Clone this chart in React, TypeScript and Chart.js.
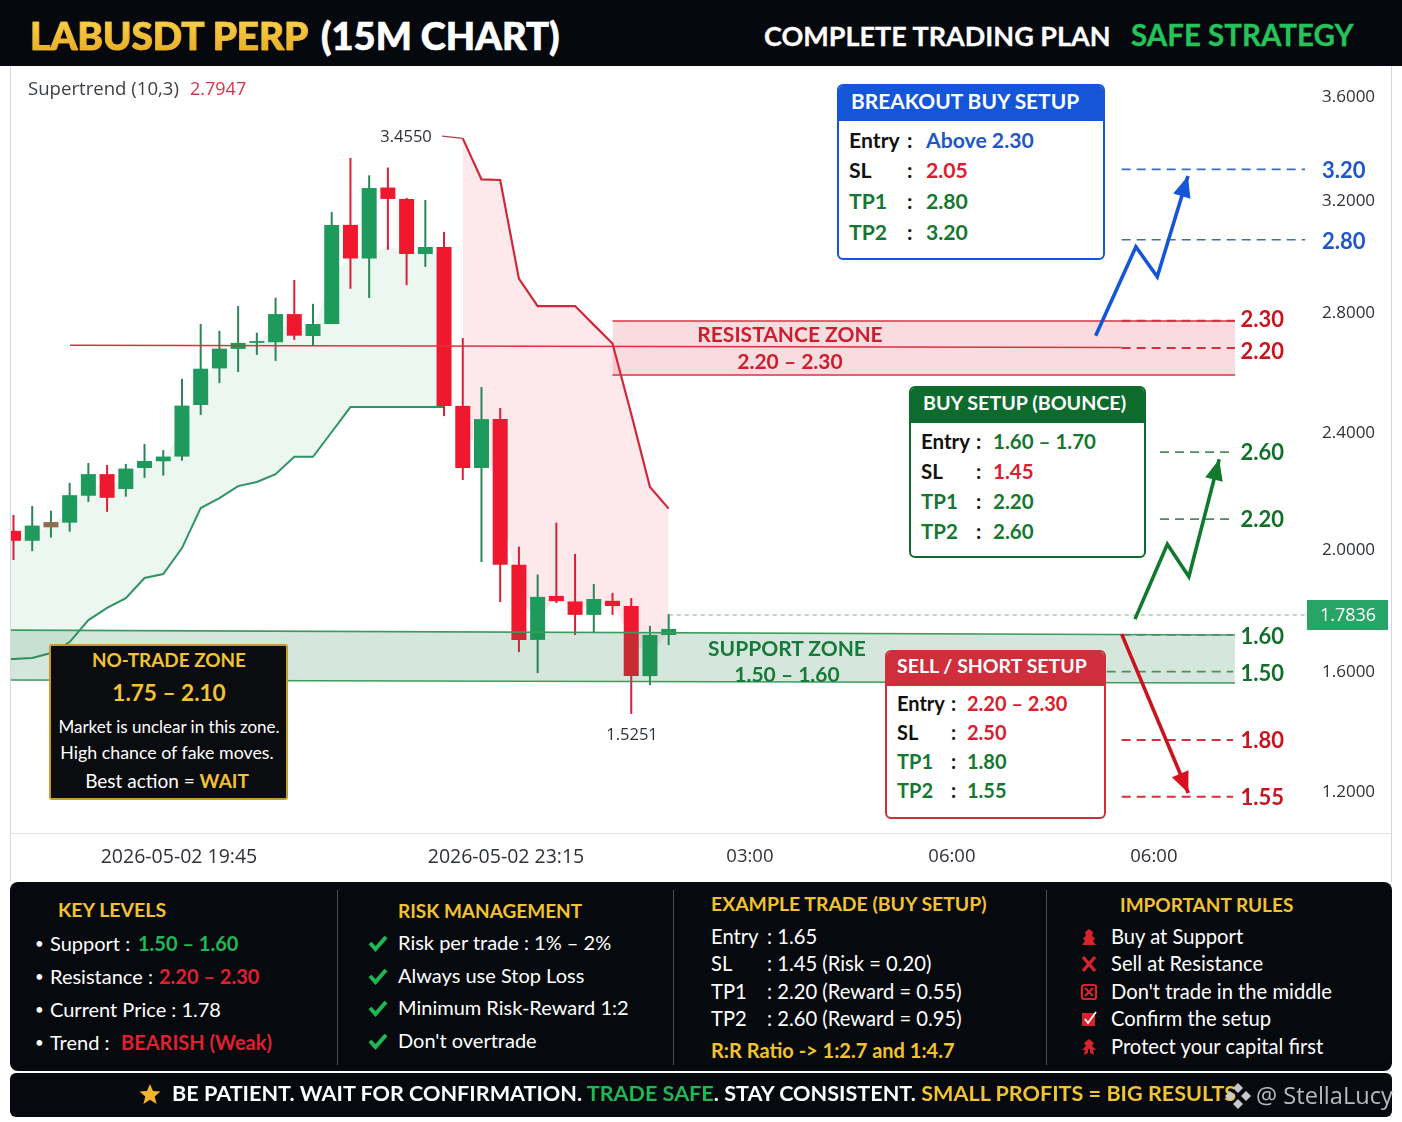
import React, { useEffect, useRef } from "react";
import { Chart, registerables, LinearScale } from "chart.js";

// ---- candle data (prices) ----
const opens = [2.062,2.028,2.074,2.090,2.182,2.256,2.205,2.277,2.300,2.316,2.490,2.612,2.677,2.697,2.699,2.793,2.720,2.760,3.111,2.991,3.248,3.204,3.007,3.032,2.487,2.277,2.443,1.948,1.702,1.846,1.828,1.784,1.830,1.813,1.583,1.718];
const closes = [2.028,2.080,2.092,2.184,2.256,2.175,2.275,2.301,2.316,2.488,2.611,2.678,2.697,2.703,2.793,2.721,2.760,3.111,2.991,3.246,3.204,3.007,3.032,2.487,2.277,2.443,1.948,1.702,1.843,1.829,1.784,1.836,1.813,1.583,1.718,1.738];
const highs = [2.116,2.147,2.131,2.226,2.294,2.287,2.291,2.359,2.338,2.577,2.760,2.737,2.821,2.731,2.851,2.914,2.829,3.157,3.362,3.295,3.325,3.208,3.200,3.086,2.713,2.550,2.480,2.008,1.916,2.090,1.984,1.885,1.856,1.839,1.748,1.787];
const lows = [1.964,1.993,2.039,2.059,2.161,2.127,2.179,2.243,2.251,2.302,2.457,2.563,2.600,2.657,2.637,2.707,2.687,2.760,2.883,2.850,3.022,2.896,2.961,2.453,2.236,1.957,1.826,1.662,1.593,1.823,1.718,1.725,1.784,1.457,1.553,1.685];

// ---- supertrend ----
const leftEdgeBar = -0.14;
const supertrendUpAtEdge = 1.639;
const upFillEdgeAtEdge = 2.04;
const supertrendUp = [1.639,1.643,1.659,1.695,1.767,1.807,1.839,1.905,1.918,2.003,2.140,2.174,2.215,2.229,2.256,2.315,2.315,2.400,2.483,2.483,2.483,2.483,2.483,2.483];
const upFillEdge = [2.044,2.055,2.082,2.137,2.219,2.215,2.239,2.287,2.308,2.403,2.550,2.645,2.687,2.700,2.747,2.757,2.740,2.932,2.993,2.993,3.039,3.007,3.007,3.007];
const supertrendDownStart = 24;
const supertrendDown = [3.437,3.279,3.277,2.919,2.821,2.821,2.821,2.757,2.695,2.460,2.212,2.138];
const downFillEdge = [2.383,2.362,2.195,1.826,1.774,1.839,1.807,1.810,1.823,1.698,1.652,1.728];
const highLeaderX = [22.9,24];
const highLeaderY = [3.446,3.437];

// ---- levels, as [x in bars, price] ----
const zoneEndX = 65.25;
const resistanceTop = [[32,2.77],[zoneEndX,2.77]];
const resistanceBottom = [[32,2.59],[zoneEndX,2.59]];
const supportTop = [[leftEdgeBar,1.734],[zoneEndX,1.718]];
const supportBottom = [[leftEdgeBar,1.57],[zoneEndX,1.56]];
const redRule = [[3.02,2.689],[59.2,2.682]];
const currentPrice = 1.7836;
const currentPriceLine = [[35,currentPrice],[69.1,currentPrice]];

const blueDashes = [[[59.2,3.318],[69,3.318]],[[59.2,3.058],[69,3.058]]];
const greenDashes = [[[61.25,2.331],[65.15,2.331]],[[61.25,2.102],[65.15,2.102]],[[59.2,1.718],[65.15,1.718]],[[58.4,1.598],[65.15,1.598]]];
const redDashes = [[[59.2,2.771],[65.25,2.771]],[[59.2,2.680],[65.25,2.680]],[[59.2,1.37],[65.15,1.37]],[[59.2,1.181],[65.15,1.181]]];

const blueArrow = [[57.81,2.721],[59.96,3.033],[61.10,2.926],[62.74,3.292]];
const greenArrow = [[59.91,1.770],[61.64,2.016],[62.79,1.909],[64.41,2.307]];
const redArrow = [[59.2,1.721],[62.76,1.193]];

const levelLabels: [string,number,number,string][] = [
  ["3.20",69.9,3.311,"#1f57c8"],["2.80",69.9,3.052,"#1f57c8"],
  ["2.30",65.55,2.775,"#c8141f"],["2.20",65.55,2.667,"#c8141f"],
  ["2.60",65.55,2.328,"#12702b"],["2.20",65.55,2.099,"#12702b"],
  ["1.60",65.55,1.711,"#12702b"],["1.50",65.55,1.590,"#12702b"],
  ["1.80",65.55,1.367,"#c8141f"],["1.55",65.55,1.178,"#c8141f"],
];

// ---- axes ----
const priceTicks = [1.2,1.6,2.0,2.4,2.8,3.2,3.6];
const priceStops = [1.06,1.2,1.6,2.0,2.4,2.8,3.2,3.6,3.715];
const priceStopFractions = [0,0.0548,0.2112,0.3703,0.5228,0.6793,0.8253,0.9609,1];
const timeTickBars = [8.84,26.31,39.34,50.13,60.92];
const timeTickLabels = ["2026-05-02 19:45","2026-05-02 23:15","03:00","06:00","06:00"];

// ---- text panels ----
const breakoutRows = [["Entry","Above 2.30","#111","#1f57c8"],["SL","2.05","#111","#d8202f"],["TP1","2.80","#16772f","#16772f"],["TP2","3.20","#16772f","#16772f"]];
const bounceRows = [["Entry","1.60 – 1.70","#111","#16772f"],["SL","1.45","#111","#d8202f"],["TP1","2.20","#16772f","#16772f"],["TP2","2.60","#16772f","#16772f"]];
const sellRows = [["Entry","2.20 – 2.30","#111","#d8202f"],["SL","2.50","#111","#d8202f"],["TP1","1.80","#16772f","#16772f"],["TP2","1.55","#16772f","#16772f"]];
const riskItems = ["Risk per trade : 1% – 2%","Always use Stop Loss","Minimum Risk-Reward 1:2","Don't overtrade"];
const exampleRows = [["Entry",": 1.65"],["SL",": 1.45 (Risk = 0.20)"],["TP1",": 2.20 (Reward = 0.55)"],["TP2",": 2.60 (Reward = 0.95)"]];
const ruleItems = ["Buy at Support","Sell at Resistance","Don't trade in the middle","Confirm the setup","Protect your capital first"];

const SANS = "Lato, 'Open Sans', sans-serif";
const PLAIN = "'Open Sans', sans-serif";
const GOLD = "#f2c230";
const GREEN = "#1fb855";
const RED = "#e0202f";

function warp(v: number) {
  const s = priceStops, f = priceStopFractions;
  if (v <= s[0]) return f[0] + (v - s[0]) * (f[1] - f[0]) / (s[1] - s[0]);
  for (let i = 1; i < s.length; i++) {
    if (v <= s[i]) return f[i - 1] + (v - s[i - 1]) * (f[i] - f[i - 1]) / (s[i] - s[i - 1]);
  }
  return 1;
}
function unwarp(d: number) {
  const s = priceStops, f = priceStopFractions;
  for (let i = 1; i < f.length; i++) {
    if (d <= f[i]) return s[i - 1] + (d - f[i - 1]) * (s[i] - s[i - 1]) / (f[i] - f[i - 1]);
  }
  return s[s.length - 1];
}
class PriceAxisScale extends LinearScale {
  static id = "priceAxis";
  static defaults = LinearScale.defaults;
  getPixelForValue(value: number) {
    return value === null ? NaN : this.getPixelForDecimal(warp(value));
  }
  getValueForPixel(pixel: number) {
    return unwarp(this.getDecimalForPixel(pixel));
  }
}
Chart.register(...registerables, PriceAxisScale);

const pts = (a: number[][]) => a.map(([x, y]) => ({ x, y }));
const series = (a: number[], start = 0) => a.map((y, i) => ({ x: i + start, y }));

function drawHead(chart: any, path: number[][], color: string, len: number, half: number) {
  const { x, y } = chart.scales;
  const n = path.length;
  const tx = x.getPixelForValue(path[n - 1][0]), ty = y.getPixelForValue(path[n - 1][1]);
  const px = x.getPixelForValue(path[n - 2][0]), py = y.getPixelForValue(path[n - 2][1]);
  const a = Math.atan2(ty - py, tx - px);
  const ctx = chart.ctx;
  ctx.save();
  ctx.fillStyle = color;
  ctx.translate(tx, ty);
  ctx.rotate(a);
  ctx.beginPath();
  ctx.moveTo(0, 0);
  ctx.lineTo(-len, -half);
  ctx.lineTo(-len, half);
  ctx.closePath();
  ctx.fill();
  ctx.restore();
}

const overlayPlugin = {
  id: "overlay",
  afterDatasetsDraw(chart: any) {
    const { ctx, scales } = chart;
    const { x, y } = scales;
    drawHead(chart, blueArrow, "#1556d8", 21, 9);
    drawHead(chart, greenArrow, "#0f7a2c", 21, 9);
    drawHead(chart, redArrow, "#d8101f", 21, 9);
    ctx.save();
    ctx.textBaseline = "middle";
    ctx.textAlign = "left";
    ctx.font = "700 22px Lato, sans-serif";
    for (const [t, bx, p, c] of levelLabels) {
      ctx.fillStyle = c;
      ctx.fillText(t, x.getPixelForValue(bx), y.getPixelForValue(p));
    }
    const py = y.getPixelForValue(currentPrice);
    ctx.fillStyle = "#27a566";
    ctx.fillRect(x.right, py - 15, 81, 30);
    ctx.fillStyle = "#fff";
    ctx.textAlign = "center";
    ctx.font = "400 18px 'Open Sans', sans-serif";
    ctx.fillText(currentPrice.toFixed(4), x.right + 41, py + 1);
    ctx.restore();
  },
};

function T({ x, y, s, c = "#fff", w = 400, f = SANS, center, ls, stroke, grad, children }: any) {
  const gradStyle: any = grad ? { background: grad, WebkitBackgroundClip: "text", backgroundClip: "text", color: "transparent" } : { color: c };
  return (
    <div style={{
      position: "absolute", left: x, top: y - 1, fontSize: s, fontWeight: w, fontFamily: f, lineHeight: 1,
      whiteSpace: "nowrap", letterSpacing: ls, WebkitTextStroke: stroke,
      transform: center ? "translate(-50%,-50%)" : "translateY(-50%)",
      ...gradStyle,
    }}>{children}</div>
  );
}

function Card({ x, y, w, h, head, color, title, titleX, titleY, titleSize, rows, rowY, labelX, colonX, valueX, size }: any) {
  return (
    <>
      <div style={{ position: "absolute", left: x, top: y, width: w, height: h, boxSizing: "border-box", background: "#fff", border: `2px solid ${color}`, borderRadius: 6, overflow: "hidden" }}>
        <div style={{ height: head, background: color }} />
      </div>
      <T x={titleX} y={titleY} s={titleSize} w={700}>{title}</T>
      {rows.map((r: string[], i: number) => (
        <React.Fragment key={r[0]}>
          <T x={labelX} y={rowY[i]} s={size} w={700} c={r[2]}>{r[0]}</T>
          <T x={colonX} y={rowY[i]} s={size} w={700} c="#111">:</T>
          <T x={valueX} y={rowY[i]} s={size} w={700} c={r[3]}>{r[1]}</T>
        </React.Fragment>
      ))}
    </>
  );
}

function Box({ x, y, w, h, bg, border, radius = 0 }: any) {
  return <div style={{ position: "absolute", left: x, top: y, width: w, height: h, background: bg, border, borderRadius: radius, boxSizing: "border-box" }} />;
}

function Check({ x, y }: any) {
  return (
    <svg style={{ position: "absolute", left: x, top: y - 9 }} width="20" height="18" viewBox="0 0 20 18">
      <polyline points="2,9 7.5,15 18,3" fill="none" stroke="#1fb855" strokeWidth="4" />
    </svg>
  );
}

function RuleIcon({ y, kind }: any) {
  const red = "#d8232f";
  const shapes: any = {
    pawn: <path d="M9 1 L13 4 L12 8 L15 10 L13 13 L16 17 L2 17 L5 13 L3 10 L6 8 L5 4 Z" fill={red} />,
    cross: <path d="M3 2 L15 16 M15 2 L3 16" stroke={red} strokeWidth="3.4" fill="none" />,
    box: <g fill="none" stroke={red} strokeWidth="2.2"><rect x="2" y="2" width="14" height="14" rx="2" /><path d="M5 5 L13 13 M13 5 L5 13" /></g>,
    tick: <g><rect x="2" y="3" width="13" height="13" fill={red} /><path d="M5 9 L8 13 L16 2" stroke="#fff" strokeWidth="1.8" fill="none" /></g>,
    guard: <path d="M9 1 L14 5 L12 8 L16 12 L13 12 L14 17 L10 15 L10 11 L8 11 L8 15 L4 17 L5 12 L2 12 L6 8 L4 5 Z" fill={red} />,
  };
  return <svg style={{ position: "absolute", left: 1080, top: y - 9 }} width="18" height="18" viewBox="0 0 18 18">{shapes[kind]}</svg>;
}

const ruleIconKinds = ["pawn", "cross", "box", "tick", "guard"];

export default function App() {
  const ref = useRef<HTMLCanvasElement>(null);

  useEffect(() => {
    const datasets: any[] = [];
    const add = (d: any) => { datasets.push({ type: "line", pointRadius: 0, tension: 0, ...d }); return datasets.length - 1; };
    const dash = (path: number[][], color: string, width: number) =>
      add({ data: pts(path), borderColor: color, borderWidth: width, borderDash: [9, 6], order: 2 });

    const candleColor = (i: number) => (closes[i] >= opens[i] ? "#1e9a5c" : "#f0182f");
    const bodyColors = opens.map((_, i) => (i === 2 ? "#8f6d50" : candleColor(i)));
    const wickColors = opens.map((_, i) => (closes[i] >= opens[i] ? "#2b8558" : "#d91f36"));

    datasets.push({ type: "bar", grouped: false, order: 10, barThickness: 15, inflateAmount: 0, backgroundColor: bodyColors,
      data: opens.map((o, i) => ({ x: i, y: [o, closes[i]] })) });
    datasets.push({ type: "bar", grouped: false, order: 11, barThickness: 2, inflateAmount: 0, backgroundColor: wickColors,
      data: lows.map((l, i) => ({ x: i, y: [l, highs[i]] })) });

    const upEdge = add({ data: [{ x: leftEdgeBar, y: upFillEdgeAtEdge }, ...series(upFillEdge)], borderWidth: 0, borderColor: "transparent", order: 30 });
    add({ data: [{ x: leftEdgeBar, y: supertrendUpAtEdge }, ...series(supertrendUp)], borderColor: "#2f9463", borderWidth: 2, order: 20,
      fill: { target: upEdge, above: "rgba(30,160,100,0.085)", below: "rgba(30,160,100,0.085)" } });
    const downEdge = add({ data: series(downFillEdge, supertrendDownStart), borderWidth: 0, borderColor: "transparent", order: 30 });
    add({ data: series(supertrendDown, supertrendDownStart), borderColor: "#d0283a", borderWidth: 2.2, order: 20,
      fill: { target: downEdge, above: "rgba(240,50,70,0.11)", below: "rgba(240,50,70,0.11)" } });
    add({ data: highLeaderX.map((x, i) => ({ x, y: highLeaderY[i] })), borderColor: "#a8434f", borderWidth: 1.2, order: 20 });

    const resBottom = add({ data: pts(resistanceBottom), borderColor: "#d8323f", borderWidth: 1.6, order: 5 });
    add({ data: pts(resistanceTop), borderColor: "#d8323f", borderWidth: 1.6, order: 5,
      fill: { target: resBottom, above: "rgba(222,50,65,0.17)", below: "rgba(222,50,65,0.17)" } });
    const supBottom = add({ data: pts(supportBottom), borderColor: "#3d9a5f", borderWidth: 1.6, order: 5 });
    add({ data: pts(supportTop), borderColor: "#3d9a5f", borderWidth: 1.6, order: 5,
      fill: { target: supBottom, above: "rgba(30,130,70,0.19)", below: "rgba(30,130,70,0.19)" } });
    add({ data: pts(redRule), borderColor: "#d8323f", borderWidth: 1.5, order: 4 });
    add({ data: pts(currentPriceLine), borderColor: "#6fb58c", borderWidth: 1, borderDash: [4, 4], order: 4 });

    blueDashes.forEach((p) => dash(p, "#3e6cbd", 1.7));
    greenDashes.forEach((p) => dash(p, "#4f8a63", 1.7));
    redDashes.forEach((p) => dash(p, "#d4303f", 2));

    add({ data: pts(blueArrow), borderColor: "#1556d8", borderWidth: 3.6, borderJoinStyle: "miter", order: 1 });
    add({ data: pts(greenArrow), borderColor: "#0f7a2c", borderWidth: 3.6, borderJoinStyle: "miter", order: 1 });
    add({ data: pts(redArrow), borderColor: "#c9141f", borderWidth: 3.6, order: 1 });

    const chart = new Chart(ref.current as any, {
      type: "line",
      data: { datasets },
      plugins: [overlayPlugin],
      options: {
        animation: false,
        responsive: false,
        devicePixelRatio: 1,
        layout: { padding: { left: 11, top: 66, right: 0, bottom: 0 } },
        plugins: { legend: { display: false }, tooltip: { enabled: false }, title: { display: false } },
        scales: {
          x: {
            type: "linear", min: -0.1335, max: 69.1, offset: false,
            grid: { display: false, drawTicks: false, offset: false }, border: { display: false },
            afterFit: (s: any) => { s.height = 289; },
            afterBuildTicks: (s: any) => { s.ticks = timeTickBars.map((value) => ({ value })); },
            ticks: { autoSkip: false, maxRotation: 0, padding: 13, color: "#2d3138",
              font: (c: any) => ({ family: "'Open Sans', sans-serif", size: c.index < 2 ? 19.5 : 18.5 }),
              callback: (_v: any, i: number) => timeTickLabels[i] },
          },
          y: {
            type: "priceAxis", position: "right", min: 1.06, max: 3.715,
            grid: { display: false, drawTicks: false }, border: { display: false },
            afterFit: (s: any) => { s.width = 95; },
            afterBuildTicks: (s: any) => { s.ticks = priceTicks.map((value) => ({ value })); },
            ticks: { autoSkip: false, padding: 15, labelOffset: 1, color: "#2d3138",
              font: { family: "'Open Sans', sans-serif", size: 17 },
              callback: (v: number) => Number(v).toFixed(4) },
          },
        },
      },
    } as any);
    return () => chart.destroy();
  }, []);

  return (
    <div style={{ position: "absolute", left: 0, top: 0, width: 1402, height: 1122, overflow: "hidden", background: "#fff" }}>
      <canvas ref={ref} width={1402} height={1122} style={{ position: "absolute", left: 0, top: 0, width: 1402, height: 1122 }} />

      {/* plot frame */}
      <Box x={10} y={66} w={1} h={816} bg="#d4d7dc" />
      <Box x={1391} y={66} w={1} h={816} bg="#d4d7dc" />
      <Box x={11} y={833} w={1380} h={1} bg="#dfe1e5" />

      {/* header */}
      <Box x={0} y={0} w={1402} h={66} bg="#05080c" />
      <T x={30} y={36} s={38.6} w={900} grad="linear-gradient(#f9d64e,#e7a922)" stroke="0.7px #eeb92f">LABUSDT PERP</T>
      <T x={321} y={36} s={38} w={900} stroke="0.7px">(15M CHART)</T>
      <T x={764} y={36} s={27} w={700} stroke="0.3px">COMPLETE TRADING PLAN</T>
      <T x={1131} y={36} s={29.5} w={700} c="#25c45a" stroke="0.3px">SAFE STRATEGY</T>

      {/* chart notes */}
      <T x={28} y={89} s={18.6} f={PLAIN} c="#3b3f46">Supertrend (10,3)</T>
      <T x={190} y={89} s={18} f={PLAIN} c="#d9324a">2.7947</T>
      <T x={406} y={137} s={16.5} f={PLAIN} c="#2d3138" center>3.4550</T>
      <T x={632} y={735} s={16.5} f={PLAIN} c="#2d3138" center>1.5251</T>
      <T x={790} y={334} s={21} w={700} c="#c8202f" center>RESISTANCE ZONE</T>
      <T x={790} y={361} s={21} w={700} c="#c8202f" center>2.20 – 2.30</T>
      <T x={787} y={648} s={21} w={700} c="#187a3a" center>SUPPORT ZONE</T>
      <T x={787} y={674} s={21} w={700} c="#187a3a" center>1.50 – 1.60</T>

      <Card x={837} y={84} w={268} h={176} head={35} color="#1556d8" title="BREAKOUT BUY SETUP" titleX={851} titleY={102} titleSize={20.9}
        rows={breakoutRows} rowY={[142, 172, 203, 234]} labelX={849} colonX={907} valueX={926} size={21.2} />
      <Card x={909} y={386} w={237} h={172} head={35} color="#0c6b2d" title="BUY SETUP (BOUNCE)" titleX={923} titleY={404} titleSize={19.7}
        rows={bounceRows} rowY={[442, 472, 502, 532]} labelX={921} colonX={976} valueX={993} size={20.5} />
      <Card x={885} y={650} w={221} h={169} head={34} color="#cf2e3c" title="SELL / SHORT SETUP" titleX={897} titleY={667} titleSize={19.5}
        rows={sellRows} rowY={[704, 733, 762, 791]} labelX={897} colonX={951} valueX={967} size={20} />

      {/* no trade */}
      <Box x={49} y={644} w={239} h={156} bg="#0a0c10" border="2px solid #c99a2a" radius={3} />
      <T x={169} y={661} s={18.9} w={700} c={GOLD} center>NO-TRADE ZONE</T>
      <T x={169} y={694} s={22.6} w={700} c={GOLD} center>1.75 – 2.10</T>
      <T x={169} y={727} s={17} center>Market is unclear in this zone.</T>
      <T x={167} y={754} s={17.8} center>High chance of fake moves.</T>
      <T x={167} y={781} s={19} center>Best action = <span style={{ color: GOLD, fontWeight: 700 }}>WAIT</span></T>

      {/* bottom panels */}
      <Box x={10} y={882} w={1382} h={189} bg="#06090d" radius={8} />
      <Box x={10} y={1073} w={1382} h={44} bg="#06090d" radius={6} />
      {[337, 673, 1046].map((x) => <Box key={x} x={x} y={890} w={1} h={175} bg="#4a4d52" />)}

      <T x={58} y={911} s={19.5} w={700} c={GOLD}>KEY LEVELS</T>
      {[944, 977, 1010, 1043].map((y) => <T key={y} x={35} y={y} s={15}>•</T>)}
      <T x={50} y={944} s={20}>Support :</T>
      <T x={138} y={944} s={20} w={700} c={GREEN}>1.50 – 1.60</T>
      <T x={50} y={977} s={20}>Resistance :</T>
      <T x={159} y={977} s={20} w={700} c={RED}>2.20 – 2.30</T>
      <T x={50} y={1010} s={20}>Current Price : 1.78</T>
      <T x={50} y={1043} s={20}>Trend :</T>
      <T x={121} y={1043} s={20} w={700} c={RED}>BEARISH (Weak)</T>

      <T x={398} y={911} s={19} w={700} c={GOLD}>RISK MANAGEMENT</T>
      {riskItems.map((t, i) => (
        <React.Fragment key={t}>
          <Check x={368} y={[943, 976, 1008, 1041][i]} />
          <T x={398} y={[943, 976, 1008, 1041][i]} s={20}>{t}</T>
        </React.Fragment>
      ))}

      <T x={711} y={905} s={19.4} w={700} c={GOLD}>EXAMPLE TRADE (BUY SETUP)</T>
      {exampleRows.map((r, i) => (
        <React.Fragment key={r[0]}>
          <T x={711} y={[937, 964, 992, 1019][i]} s={20.2}>{r[0]}</T>
          <T x={767} y={[937, 964, 992, 1019][i]} s={20.2}>{r[1]}</T>
        </React.Fragment>
      ))}
      <T x={711} y={1051} s={20} w={700} c={GOLD}>R:R Ratio -&gt; 1:2.7 and 1:4.7</T>

      <T x={1120} y={905} s={19} w={700} c={GOLD}>IMPORTANT RULES</T>
      {ruleItems.map((t, i) => (
        <React.Fragment key={t}>
          <RuleIcon y={[937, 964, 992, 1019, 1047][i]} kind={ruleIconKinds[i]} />
          <T x={1111} y={[937, 964, 992, 1019, 1047][i]} s={20.2}>{t}</T>
        </React.Fragment>
      ))}

      <svg style={{ position: "absolute", left: 139, top: 1083 }} width="22" height="22" viewBox="0 0 22 22">
        <polygon points="11,1 14,8 21.5,8.6 15.7,13.4 17.6,21 11,16.8 4.4,21 6.3,13.4 0.5,8.6 8,8" fill="#f5b32a" />
      </svg>
      <T x={172} y={1095} s={21.6} w={700}>BE PATIENT. WAIT FOR CONFIRMATION. <span style={{ color: GREEN }}>TRADE SAFE</span>. STAY CONSISTENT. <span style={{ color: GOLD }}>SMALL PROFITS = BIG RESULTS</span></T>
      <svg style={{ position: "absolute", left: 1224, top: 1082 }} width="28" height="28" viewBox="0 0 28 28">
        <g fill="#c9c9c9"><path d="M14 1 L19 6 L14 11 L9 6 Z" /><path d="M14 17 L19 22 L14 27 L9 22 Z" /><path d="M6 9 L11 14 L6 19 L1 14 Z" /><path d="M22 9 L27 14 L22 19 L17 14 Z" /></g>
      </svg>
      <T x={1256} y={1097} s={23.6} c="#b8babd" f={PLAIN}>@ StellaLucy</T>
    </div>
  );
}
